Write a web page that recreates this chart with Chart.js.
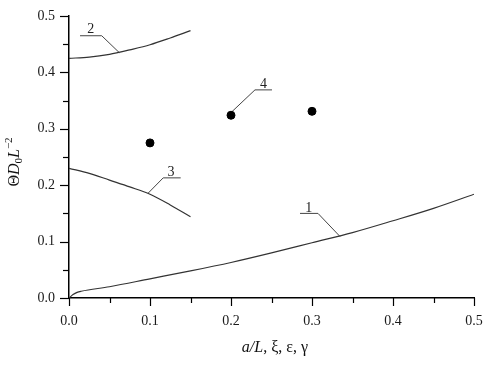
<!DOCTYPE html>
<html>
<head>
<meta charset="utf-8">
<script src="https://cdn.jsdelivr.net/npm/chart.js@4"></script>
<style>
  html, body { margin: 0; padding: 0; background: #fff; }
  #wrap { width: 500px; height: 365px; }
</style>
</head>
<body>
<div id="wrap"><canvas id="myChart" width="500" height="365"></canvas></div>
<script>
// curve 1
const x1 = [0, 0.005, 0.01, 0.015, 0.05, 0.1, 0.15, 0.2, 0.25, 0.3, 0.35, 0.4, 0.45, 0.5];
const y1 = [0, 0.006, 0.010, 0.012, 0.020, 0.034, 0.048, 0.063, 0.080, 0.098, 0.116, 0.137, 0.159, 0.184];
// curve 2
const x2 = [0, 0.025, 0.05, 0.075, 0.1, 0.125, 0.15];
const y2 = [0.425, 0.427, 0.432, 0.440, 0.449, 0.461, 0.474];
// curve 3
const x3 = [0, 0.025, 0.05, 0.075, 0.1, 0.125, 0.15];
const y3 = [0.230, 0.221, 0.209, 0.197, 0.184, 0.165, 0.144];
// points 4
const x4 = [0.1, 0.2, 0.3];
const y4 = [0.275, 0.324, 0.331];

// label leaders (text, then polyline)
const labelText = ['1', '2', '3', '4'];
const labelX = [0.296, 0.027, 0.126, 0.240];
const labelY = [0.161, 0.478, 0.225, 0.381];
const leadX = [[0.2852, 0.3074, 0.3346], [0.0136, 0.0404, 0.0621], [0.1379, 0.1163, 0.0978], [0.2506, 0.2296, 0.2009]];
const leadY = [[0.150, 0.150, 0.109], [0.465, 0.465, 0.435], [0.213, 0.213, 0.186], [0.369, 0.369, 0.330]];

const pts = (xs, ys) => xs.map((x, i) => ({x: x, y: ys[i]}));

const lineStyle = {
    showLine: true,
    borderColor: '#333',
    borderWidth: 1.2,
    pointRadius: 0,
    cubicInterpolationMode: 'monotone',
    fill: false
};

const datasets = [
    Object.assign({data: pts(x1, y1)}, lineStyle),
    Object.assign({data: pts(x2, y2)}, lineStyle),
    Object.assign({data: pts(x3, y3)}, lineStyle),
    {
        data: pts(x4, y4),
        showLine: false,
        pointRadius: 4,
        pointBackgroundColor: '#000',
        pointBorderColor: '#000'
    }
];
leadX.forEach((xs, i) => {
    datasets.push({
        data: pts(xs, leadY[i]),
        showLine: true,
        borderColor: '#444',
        borderWidth: 1,
        pointRadius: 0,
        tension: 0
    });
});

const serif = '"Liberation Serif", "Times New Roman", serif';

// draw a run of text pieces, centred at (cx, cy)
function drawRun(c, parts, cx, cy) {
    let total = 0;
    parts.forEach(p => {
        c.font = p.f;
        p.w = c.measureText(p.t).width;
        total += p.w;
    });
    let x = cx - total / 2;
    c.textBaseline = 'middle';
    c.textAlign = 'left';
    parts.forEach(p => {
        c.font = p.f;
        c.fillText(p.t, x, cy + (p.dy || 0));
        x += p.w;
    });
}

const extras = {
    id: 'extras',
    afterDraw(chart) {
        const c = chart.ctx;
        const xs = chart.scales.x, ys = chart.scales.y;
        c.save();
        c.strokeStyle = '#000';
        c.lineWidth = 1.2;
        // tick marks
        xs.ticks.forEach(t => {
            const px = Math.round(xs.getPixelForValue(t.value)) + 0.5;
            const major = Math.round(t.value * 100) % 10 === 0;
            c.beginPath();
            c.moveTo(px, ys.bottom);
            c.lineTo(px, ys.bottom + (major ? 8 : 5));
            c.stroke();
        });
        ys.ticks.forEach(t => {
            const py = Math.round(ys.getPixelForValue(t.value)) + 0.5;
            const major = Math.round(t.value * 100) % 10 === 0;
            c.beginPath();
            c.moveTo(xs.left, py);
            c.lineTo(xs.left - (major ? 9 : 6), py);
            c.stroke();
        });
        // curve labels
        c.fillStyle = '#222';
        c.font = '14px ' + serif;
        c.textAlign = 'center';
        c.textBaseline = 'alphabetic';
        labelText.forEach((s, i) => {
            c.fillText(s, xs.getPixelForValue(labelX[i]), ys.getPixelForValue(labelY[i]) + 5);
        });
        // x title
        c.fillStyle = '#111';
        drawRun(c, [
            {t: 'a/L', f: 'italic 16px ' + serif},
            {t: ', ξ, ε, γ', f: '16px ' + serif}
        ], 275, 348);
        // y title
        c.translate(15, 162);
        c.rotate(-Math.PI / 2);
        drawRun(c, [
            {t: 'Θ', f: '16px ' + serif},
            {t: 'D', f: 'italic 16px ' + serif},
            {t: '0', f: '11px ' + serif, dy: 4},
            {t: 'L', f: 'italic 16px ' + serif},
            {t: '−2', f: '11px ' + serif, dy: -6}
        ], 0, 0);
        c.restore();
    }
};

const tickFmt = v => (Math.round(v * 100) % 10 === 0 ? v.toFixed(1) : '');

const config = {
    type: 'scatter',
    data: {datasets: datasets},
    options: {
        responsive: false,
        animation: false,
        layout: {padding: {top: 16, right: 26, left: 0, bottom: 0}},
        plugins: {legend: {display: false}, tooltip: {enabled: false}},
        scales: {
            x: {
                type: 'linear',
                min: 0, max: 0.5,
                grid: {display: false, drawTicks: false},
                border: {display: true, color: '#000', width: 1.5},
                ticks: {
                    stepSize: 0.05,
                    autoSkip: false,
                    maxRotation: 0,
                    padding: 15,
                    color: '#1a1a1a',
                    font: {family: serif, size: 14},
                    callback: tickFmt
                },
                afterFit: s => {
                    s.height = 67;
                    s.paddingLeft = 0;
                    s.paddingRight = 0;
                }
            },
            y: {
                type: 'linear',
                min: 0, max: 0.5,
                grid: {display: false, drawTicks: false},
                border: {display: true, color: '#000', width: 1.5},
                ticks: {
                    stepSize: 0.05,
                    autoSkip: false,
                    padding: 14,
                    color: '#1a1a1a',
                    font: {family: serif, size: 14},
                    callback: tickFmt
                },
                afterFit: s => {
                    s.width = 69;
                    s.paddingTop = 0;
                    s.paddingBottom = 0;
                }
            }
        }
    },
    plugins: [extras]
};

const myChart = new Chart(document.getElementById('myChart').getContext('2d'), config);
</script>
</body>
</html>
